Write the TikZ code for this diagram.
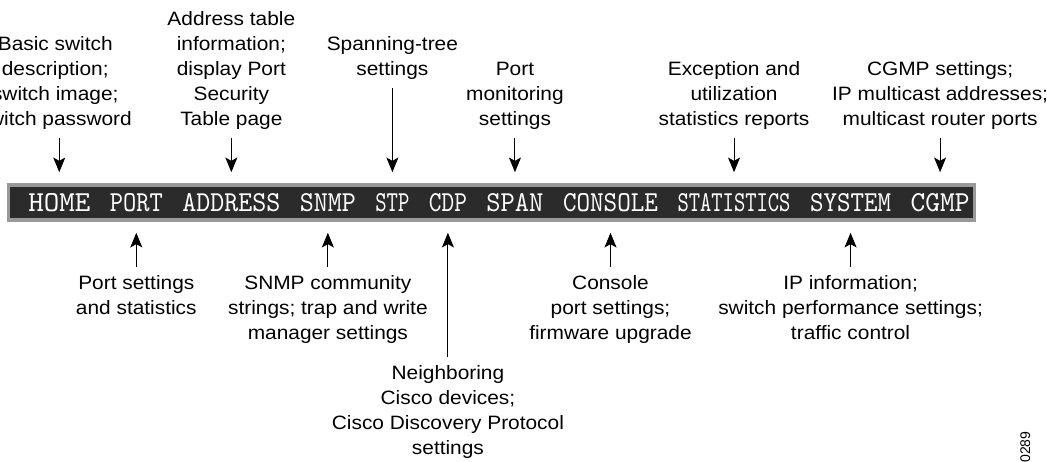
\documentclass[tikz,border=0pt]{standalone}
\usepackage{fontspec}
\usepackage{graphicx}
\usepackage{tikz}
\usetikzlibrary{positioning,arrows.meta}
\newfontfamily\lblfont[FakeStretch=1.08]{Liberation Sans}
\newfontfamily\numfont{Liberation Sans}
\newcommand{\menuword}[2]{\resizebox{#1}{13.5pt}{\ttfamily #2}}
\tikzset{
  lbl/.style  ={align=center, inner sep=0pt, font=\lblfont\fontsize{14.5}{18.75}\selectfont},
  word/.style ={inner sep=0pt, minimum height=23.25pt, text=white},
  arr/.style  ={-{Stealth[length=11pt,width=9pt,inset=2.5pt]}, line width=0.75pt, shorten <=6pt, shorten >=10.9pt},
}

\begin{document}
\begin{tikzpicture}[x=0.75pt, y=-0.75pt, node distance=42.4pt]
  \clip (0,0) rectangle (1047,461);
  % menu bar
  \fill[black!40] (7,183) rectangle (976,222);
  \fill[black!83] (10,187) rectangle (973,218);
  \node[word, anchor=west] (home) at (28,202.5) {\menuword{46.5pt}{HOME}};
  \node[word, right=14.25pt of home] (port) {\menuword{39.75pt}{PORT}};
  \node[word, right=14.25pt of port] (address) {\menuword{73.5pt}{ADDRESS}};
  \node[word, right=14.25pt of address] (snmp) {\menuword{42pt}{SNMP}};
  \node[word, right=14.25pt of snmp] (stp) {\menuword{25.5pt}{STP}};
  \node[word, right=14.25pt of stp] (cdp) {\menuword{28.5pt}{CDP}};
  \node[word, right=14.25pt of cdp] (span) {\menuword{42.75pt}{SPAN}};
  \node[word, right=14.25pt of span] (console) {\menuword{71.25pt}{CONSOLE}};
  \node[word, right=14.25pt of console] (statistics) {\menuword{84.75pt}{STATISTICS}};
  \node[word, right=14.25pt of statistics] (system) {\menuword{60.75pt}{SYSTEM}};
  \node[word, right=14.25pt of system] (cgmp) {\menuword{44.25pt}{CGMP}};

  % labels above the bar
  \node[lbl, above=of home, xshift=-3pt] (lhome) {Basic switch\\description;\\switch image;\\switch password};
  \node[lbl, above=of address] (laddress) {Address table\\information;\\display Port\\Security\\Table page};
  \node[lbl, above=79.9pt of stp] (lstp) {Spanning-tree\\settings};
  \node[lbl, above=of span] (lspan) {Port\\monitoring\\settings};
  \node[lbl, above=of statistics] (lstatistics) {Exception and\\utilization\\statistics reports};
  \node[lbl, above=of cgmp] (lcgmp) {CGMP settings;\\IP multicast addresses;\\multicast router ports};

  % labels below the bar
  \node[lbl, below=of port] (lport) {Port settings\\and statistics};
  \node[lbl, below=of snmp] (lsnmp) {SNMP community\\strings; trap and write\\manager settings};
  \node[lbl, below=109.9pt of cdp] (lcdp) {Neighboring\\Cisco devices;\\Cisco Discovery Protocol\\settings};
  \node[lbl, below=of console] (lconsole) {Console\\port settings;\\firmware upgrade};
  \node[lbl, below=of system] (lsystem) {IP information;\\switch performance settings;\\traffic control};

  \draw[arr] (lhome.south -| home) -- (home);
  \draw[arr] (laddress) -- (address);
  \draw[arr] (lstp) -- (stp);
  \draw[arr] (lspan) -- (span);
  \draw[arr] (lstatistics) -- (statistics);
  \draw[arr] (lcgmp) -- (cgmp);
  \draw[arr] (lport) -- (port);
  \draw[arr] (lsnmp) -- (snmp);
  \draw[arr] (lcdp) -- (cdp);
  \draw[arr] (lconsole) -- (console);
  \draw[arr] (lsystem) -- (system);

  \node[rotate=90, anchor=base west, inner sep=0pt, font=\numfont\fontsize{10.5}{12}\selectfont] (fignum) at (1030,463) {0289};
\end{tikzpicture}
\end{document}
